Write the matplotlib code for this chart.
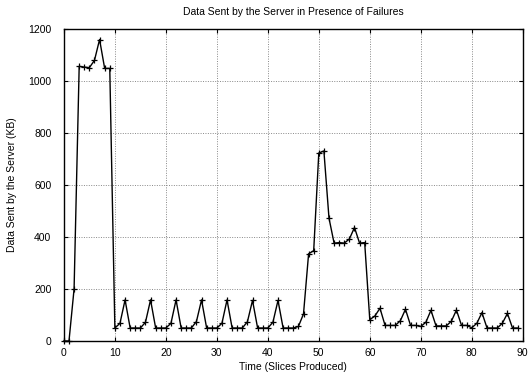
import matplotlib
matplotlib.use("Agg")
import matplotlib.pyplot as plt

plt.rcParams['font.family'] = ['Liberation Sans', 'DejaVu Sans']

# data sent per slice (KB), slices 0..89
slices = list(range(90))
data_kb = [
    0, 0, 200, 1055, 1052, 1050, 1078, 1158, 1047, 1047,      # 0-9
    50, 68, 158, 50, 50, 50, 72, 158, 50, 50,                 # 10-19
    50, 68, 158, 50, 50, 50, 75, 158, 50, 50,                 # 20-29
    50, 68, 158, 50, 50, 50, 74, 156, 50, 50,                 # 30-39
    50, 72, 156, 50, 50, 50, 56, 104, 335, 347,               # 40-49
    722, 730, 472, 376, 378, 376, 392, 436, 376, 378,         # 50-59
    82, 96, 126, 60, 60, 60, 78, 122, 60, 60,                 # 60-69
    56, 72, 118, 58, 58, 58, 76, 119, 60, 60,                 # 70-79
    51, 68, 109, 50, 50, 50, 68, 106, 50, 50,                 # 80-89
]

x_ticks = list(range(0, 91, 10))
y_ticks = list(range(0, 1201, 200))

fig = plt.figure(figsize=(5.28, 3.76), dpi=100)
ax = fig.add_axes([0.121, 0.093, 0.869, 0.831])

ax.plot(slices, data_kb, color='black', linewidth=1.0, marker='+',
        markersize=5, markeredgewidth=0.9, clip_on=False, zorder=3)

ax.set_xlim(0, 90)
ax.set_ylim(0, 1200)
ax.set_xticks(x_ticks)
ax.set_yticks(y_ticks)
ax.grid(True, linestyle=(0, (1, 1.5)), color='#888888', linewidth=0.7)
ax.tick_params(direction='in', length=3, top=True, right=True, labelsize=7.5)
ax.tick_params(axis='y', pad=9)
ax.tick_params(axis='x', pad=5)
for s in ax.spines.values():
    s.set_linewidth(1.0)

ax.set_title('Data Sent by the Server in Presence of Failures', fontsize=7.5, pad=10)
ax.set_xlabel('Time (Slices Produced)', fontsize=7.5, labelpad=3)
ax.set_ylabel('Data Sent by the Server (KB)', fontsize=7.5, labelpad=8)

fig.savefig('out.png', dpi=100)
